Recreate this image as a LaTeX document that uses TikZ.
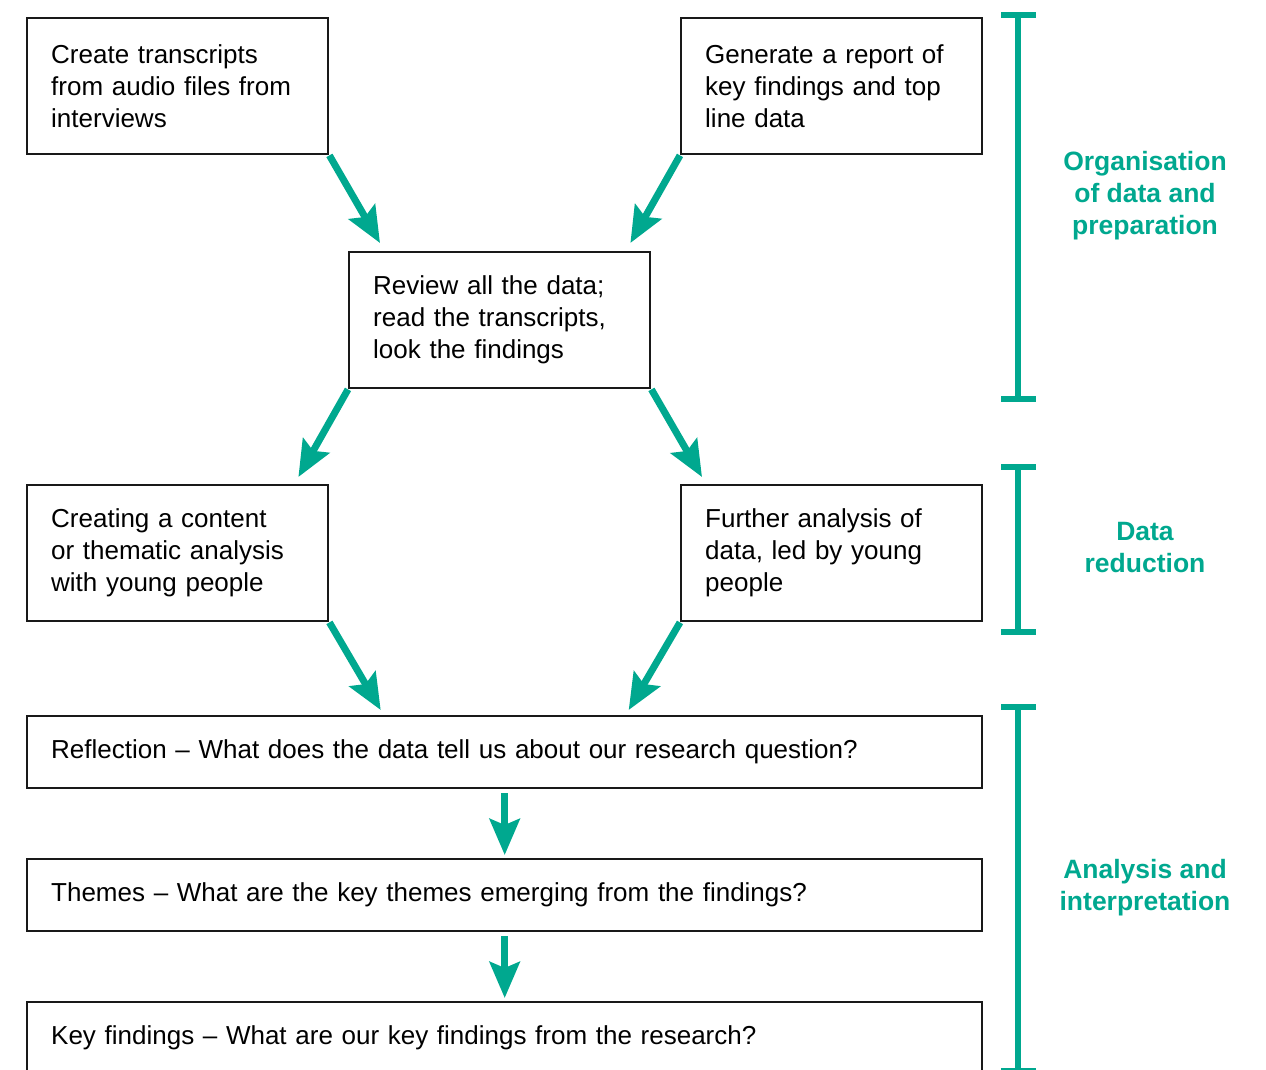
\documentclass[tikz,border=0pt]{standalone}
\usepackage{fontspec}
\setmainfont{Liberation Sans}
\usetikzlibrary{arrows.meta}
\definecolor{stageteal}{RGB}{0,168,143}

\begin{document}
\begin{tikzpicture}[x=1pt,y=-1pt,>={Stealth[length=36pt,width=30pt,inset=6pt]},
  font=\fontsize{26}{32}\selectfont,
  stepbox/.style={draw=black!90,line width=2.4pt,anchor=north west,inner xsep=24pt,inner ysep=0pt,
    text width=253pt,minimum height=136pt,align=left},
  widebox/.style={draw=black!90,line width=2.4pt,anchor=north west,inner xsep=24pt,inner ysep=0pt,
    text width=907pt,minimum height=72pt,align=left},
  flow/.style={->,stageteal,line width=7pt},
  bracket/.style={stageteal,line width=6pt},
  stagelabel/.style={stageteal,font=\fontsize{26.5}{32}\selectfont\bfseries,align=center}]
\clip (0,0) rectangle (1266,1070);
% steps
\node[stepbox] (transcripts) at (26,17) {Create transcripts\\from audio files from\\interviews};
\node[stepbox] (report) at (680,17) {Generate a report of\\key findings and top\\line data};
\node[stepbox] (review) at (348,251) {Review all the data;\\read the transcripts,\\look the findings};
\node[stepbox] (content) at (26,484) {Creating a content\\or thematic analysis\\with young people};
\node[stepbox] (further) at (680,484) {Further analysis of\\data, led by young\\people};
\node[widebox] (reflection) at (26,715) {Reflection -- What does the data tell us about our research question?};
\node[widebox] (themes) at (26,858) {Themes -- What are the key themes emerging from the findings?};
\node[widebox] (keyfind) at (26,1001) {Key findings -- What are our key findings from the research?};
% arrows
\draw[flow] (transcripts.south east) -- ([xshift=32pt,yshift=8pt]review.north west);
\draw[flow] (report.south west) -- ([xshift=-21pt,yshift=8pt]review.north east);
\draw[flow] (review.south west) -- ([xshift=-31pt,yshift=7pt]content.north east);
\draw[flow] (review.south east) -- ([xshift=22pt,yshift=7pt]further.north west);
\draw[flow] (content.south east) -- ([xshift=-124pt,yshift=5pt]reflection.north);
\draw[flow] (further.south west) -- ([xshift=124pt,yshift=5pt]reflection.north);
\draw[flow] ([yshift=-4pt]reflection.south) -- ([yshift=3pt]themes.north);
\draw[flow] ([yshift=-4pt]themes.south) -- ([yshift=3pt]keyfind.north);
% stages
\draw[bracket] (1001,15) -- (1036,15) (1018,15) -- (1018,399) (1001,399) -- (1036,399);
\draw[bracket] (1001,467) -- (1036,467) (1018,467) -- (1018,632) (1001,632) -- (1036,632);
\draw[bracket] (1001,707) -- (1036,707) (1018,707) -- (1018,1071) (1001,1071) -- (1036,1071);
\node[stagelabel] (organisation) at (1145,196) {Organisation\\of data and\\preparation};
\node[stagelabel] (reduction) at (1145,548) {Data\\reduction};
\node[stagelabel] (analysis) at (1145,888) {Analysis and\\interpretation};
\end{tikzpicture}
\end{document}
